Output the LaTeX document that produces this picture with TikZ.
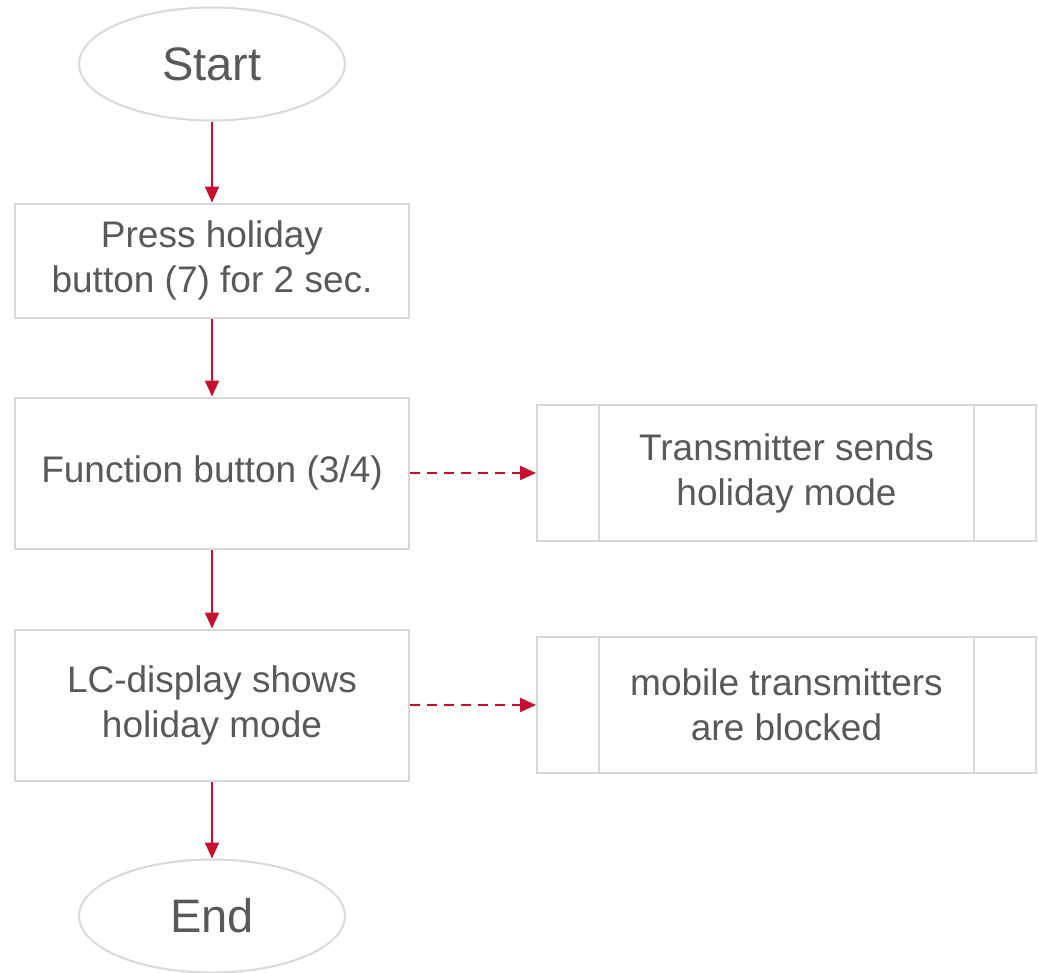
\documentclass[tikz,border=0pt]{standalone}
\usepackage{fontspec}
\setmainfont{Liberation Sans}
\usetikzlibrary{positioning,shapes.geometric,arrows.meta}
\definecolor{flowgray}{RGB}{217,217,217}
\definecolor{flowtext}{RGB}{89,89,89}
\definecolor{flowred}{RGB}{200,16,46}

\begin{document}
\begin{tikzpicture}[x=1pt, y=-1pt,
	terminal/.style={ellipse, draw=flowgray, line width=2pt, text=flowtext, minimum width=266pt, minimum height=113pt, inner sep=0pt, font=\fontsize{47}{56}\selectfont},
	stepbox/.style={rectangle, draw=flowgray, line width=2pt, text=flowtext, minimum width=394pt, inner sep=0pt, align=center, font=\fontsize{37}{45}\selectfont},
	subbox/.style={stepbox, minimum width=499pt, minimum height=136pt},
	flow/.style={draw=flowred, line width=2pt, -{Triangle[length=16pt,width=14pt]}},
	side/.style={flow, dash pattern=on 10pt off 7pt},
	bar/.style={draw=flowgray, line width=2pt}]
	\useasboundingbox (0,0) rectangle (1038,972);
	\node [terminal] (S) at (212,64) {Start};
	\node [stepbox, minimum height=114pt, below=81pt of S] (P) {Press holiday\\button (7) for 2 sec.};
	\node [stepbox, minimum height=151pt, below=78pt of P] (F) {Function button (3/4)};
	\node [stepbox, minimum height=151pt, below=79pt of F] (L) {LC-display shows\\holiday mode};
	\node [terminal, below=77pt of L] (E) {End};
	\node [subbox, right=126pt of F] (T) {Transmitter sends\\holiday mode};
	\node [subbox, right=126pt of L] (M) {mobile transmitters\\are blocked};
	\draw [bar] ([xshift=63pt]T.north west) -- ([xshift=63pt]T.south west);
	\draw [bar] ([xshift=-63pt]T.north east) -- ([xshift=-63pt]T.south east);
	\draw [bar] ([xshift=63pt]M.north west) -- ([xshift=63pt]M.south west);
	\draw [bar] ([xshift=-63pt]M.north east) -- ([xshift=-63pt]M.south east);
	\draw [flow] (S) to (P);
	\draw [flow] (P) to (F);
	\draw [flow] (F) to (L);
	\draw [flow] (L) to (E);
	\draw [side] (F) to (T);
	\draw [side] (L) to (M);
\end{tikzpicture}
\end{document}
